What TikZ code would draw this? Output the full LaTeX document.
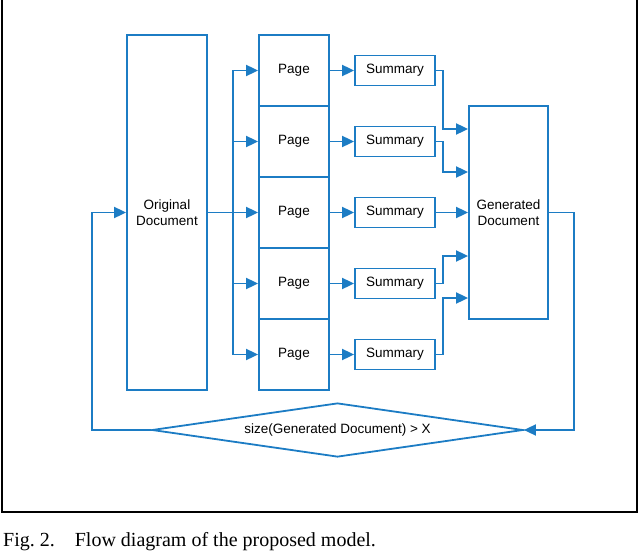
\documentclass[tikz,border=0pt]{standalone}
\usepackage{fontspec}
\setmainfont{Liberation Serif}
\newfontfamily\diagfont{Liberation Sans}
\usetikzlibrary{shapes.geometric,arrows.meta}
\definecolor{flowblue}{RGB}{28,124,196}
\begin{document}
\begin{tikzpicture}[x=1pt,y=-1pt,
  box/.style={draw=flowblue,line width=1.8pt,rectangle,inner sep=0pt,align=center,font=\diagfont\fontsize{13.5}{16}\selectfont},
  flow/.style={draw=flowblue,line width=1.8pt,-{Triangle[length=12pt,width=11pt]}},
  line/.style={draw=flowblue,line width=1.8pt}]
\useasboundingbox (0,0) rectangle (640,551);
\draw[line width=1.5pt] (2,-5) -- (2,512) -- (637,512) -- (637,-5);
% main boxes
\node[box,minimum width=80pt,minimum height=355pt] (orig) at (167,212.5) {Original\\Document};
\node[box,minimum width=79pt,minimum height=213pt] (gen) at (508.5,212.5) {Generated\\Document};
\foreach \i/\y in {1/70.5,2/141.5,3/212.5,4/283.5,5/354.5}{
  \node[box,minimum width=70pt,minimum height=71pt] (p\i) at (294,\y) {Page};
  \node[box,minimum width=80pt,minimum height=30pt] (s\i) at (395,\y) {Summary};
  \draw[flow] (p\i) -- (s\i);
}
\node[box,diamond,aspect=6.9,minimum width=371pt,minimum height=54pt] (cond) at (337.5,430) {size(Generated Document) > X};
% branching from original
\coordinate (br) at (233,212.5);
\draw[line] (orig.east) -- (br);
\draw[line] (233,70.5) -- (233,354.5);
\foreach \i in {1,...,5}{\draw[flow] (br |- p\i) -- (p\i.west);}
% summaries to generated
\foreach \i/\y in {1/129,2/172,3/212.5,4/256,5/298}{
  \draw[flow] (s\i.east) -| (443,\y) -- (gen.west |- 0,\y);
}
% feedback loop
\draw[flow] (gen.east) -| (574,430) -- (cond.east);
\draw[flow] (cond.west) -| (92,212.5) -- (orig.west);
\node[anchor=base west,font=\fontsize{20}{24}\selectfont,inner sep=0pt] (cap) at (3,546) {Fig.~2.\hspace{1em}Flow diagram of the proposed model.};
\end{tikzpicture}
\end{document}
